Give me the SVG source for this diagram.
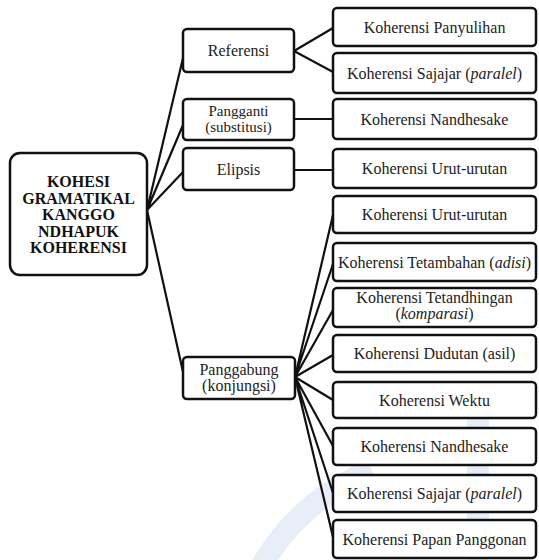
<svg xmlns="http://www.w3.org/2000/svg" width="539" height="560" viewBox="0 0 539 560">
<style>
.box{fill:#fff;stroke:#111;stroke-width:2.5}
.t{font-family:"Liberation Serif","Times New Roman",serif;font-size:16px;fill:#222;text-anchor:middle}
.s{font-size:15px}
.r{font-family:"Liberation Serif","Times New Roman",serif;font-size:16px;font-weight:bold;fill:#111;text-anchor:middle}
.c{stroke:#111;stroke-width:2.2;fill:none;stroke-linecap:round}
.wm{fill:none;stroke:#e8eef8}
</style>
<rect width="539" height="560" fill="#fff"/>
<g id="watermark">
<path class="wm" d="M372 470 Q300 500 262 565" stroke-width="22"/>
<path class="wm" d="M478 392 L478 560" stroke-width="22"/>
</g>
<g id="connectors">
<path class="c" d="M147 210 L183 58 M147 210 L183 125 M147 210 L183 172 M147 210 L183 372"/>
<path class="c" d="M294 51 L333 28 M294 51 L333 72 M294 119 L333 119 M294 170 L333 170"/>
<path class="c" d="M295 377 L333 215 M295 377 L333 264 M295 377 L333 310 M295 377 L333 355 M295 377 L333 400 M295 377 L333 446 M295 377 L333 493 M295 377 L333 537"/>
</g>
<g id="root">
<rect class="box" x="10" y="153" width="137" height="122" rx="10"/>
<text class="r" x="78.5" y="187">KOHESI</text>
<text class="r" x="78.5" y="203.5">GRAMATIKAL</text>
<text class="r" x="78.5" y="220">KANGGO</text>
<text class="r" x="78.5" y="236.5">NDHAPUK</text>
<text class="r" x="78.5" y="253">KOHERENSI</text>
</g>
<g id="referensi">
<rect class="box" x="183" y="29" width="111" height="43" rx="4"/>
<text class="t" x="238.5" y="56">Referensi</text>
</g>
<g id="pangganti">
<rect class="box" x="183" y="99" width="111" height="41" rx="4"/>
<text class="t s" x="238.5" y="116">Pangganti</text>
<text class="t s" x="238.5" y="131.5">(substitusi)</text>
</g>
<g id="elipsis">
<rect class="box" x="183" y="148" width="111" height="42" rx="4"/>
<text class="t" x="238.5" y="174.5">Elipsis</text>
</g>
<g id="panggabung">
<rect class="box" x="183" y="357" width="112" height="42" rx="4"/>
<text class="t" x="239" y="375">Panggabung</text>
<text class="t" x="239" y="391">(konjungsi)</text>
</g>
<g id="k-panyulihan">
<rect class="box" x="333" y="8" width="203" height="38" rx="4"/>
<text class="t" x="434.5" y="32.5">Koherensi Panyulihan</text>
</g>
<g id="k-sajajar-1">
<rect class="box" x="333" y="53" width="203" height="40" rx="4"/>
<text class="t" x="434.5" y="78.5">Koherensi Sajajar (<tspan font-style="italic">paralel</tspan>)</text>
</g>
<g id="k-nandhesake-1">
<rect class="box" x="333" y="99" width="203" height="40" rx="4"/>
<text class="t" x="434.5" y="124.5">Koherensi Nandhesake</text>
</g>
<g id="k-urut-1">
<rect class="box" x="333" y="149" width="203" height="39" rx="4"/>
<text class="t" x="434.5" y="174">Koherensi Urut-urutan</text>
</g>
<g id="k-urut-2">
<rect class="box" x="333" y="196" width="203" height="37" rx="4"/>
<text class="t" x="434.5" y="220">Koherensi Urut-urutan</text>
</g>
<g id="k-tetambahan">
<rect class="box" x="333" y="243" width="203" height="38" rx="4"/>
<text class="t" x="434.5" y="267.5">Koherensi Tetambahan (<tspan font-style="italic">adisi</tspan>)</text>
</g>
<g id="k-tetandhingan">
<rect class="box" x="333" y="288" width="203" height="39" rx="4"/>
<text class="t" x="434.5" y="303">Koherensi Tetandhingan</text>
<text class="t" x="434.5" y="319">(<tspan font-style="italic">komparasi</tspan>)</text>
</g>
<g id="k-dudutan">
<rect class="box" x="333" y="335" width="203" height="37" rx="4"/>
<text class="t" x="434.5" y="359">Koherensi Dudutan (asil)</text>
</g>
<g id="k-wektu">
<rect class="box" x="333" y="382" width="203" height="36" rx="4"/>
<text class="t" x="434.5" y="405.5">Koherensi Wektu</text>
</g>
<g id="k-nandhesake-2">
<rect class="box" x="333" y="428" width="203" height="37" rx="4"/>
<text class="t" x="434.5" y="452">Koherensi Nandhesake</text>
</g>
<g id="k-sajajar-2">
<rect class="box" x="333" y="475" width="203" height="37" rx="4"/>
<text class="t" x="434.5" y="499">Koherensi Sajajar (<tspan font-style="italic">paralel</tspan>)</text>
</g>
<g id="k-papan">
<rect class="box" x="333" y="520" width="203" height="38" rx="4"/>
<text class="t" x="434.5" y="544.5">Koherensi Papan Panggonan</text>
</g>
</svg>
